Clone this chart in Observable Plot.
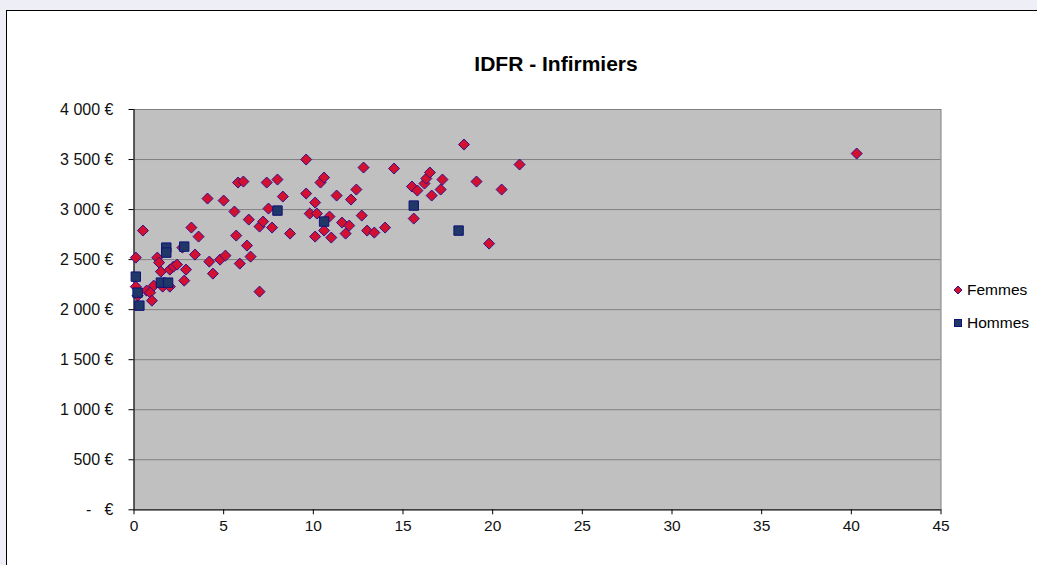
<!DOCTYPE html>
<html>
<head>
<meta charset="utf-8">
<script src="https://cdn.jsdelivr.net/npm/d3@7"></script>
<script src="https://cdn.jsdelivr.net/npm/@observablehq/plot@0.6"></script>
<style>
  html, body { margin: 0; padding: 0; overflow: hidden; }
  body { width: 1037px; height: 565px; background: #eeeef6; position: relative; font-family: "Liberation Sans", Arial, sans-serif; }
  #box { position: absolute; left: 6px; top: 10px; width: 1200px; height: 700px; background: #ffffff; border-left: 1px solid #000; border-top: 1px solid #000; box-sizing: border-box; }
  #chart { position: absolute; left: 0; top: 0; }
  #title { position: absolute; left: 556px; top: 52px; transform: translateX(-50%); font-weight: bold; font-size: 21px; line-height: 24px; white-space: nowrap; color: #000; }
  .leg { position: absolute; left: 953px; font-size: 15.5px; line-height: 18px; color: #000; white-space: nowrap; display: flex; align-items: center; }
  .leg svg { margin-right: 4px; }
</style>
</head>
<body>
<div id="box"></div>
<div id="chart"></div>
<div id="title">IDFR - Infirmiers</div>
<div class="leg" style="top:281px"><svg width="10" height="10"><path d="M5,1L9,5L5,9L1,5Z" fill="#d3102f" stroke="#33118a" stroke-width="1"/></svg>Femmes</div>
<div class="leg" style="top:314px"><svg width="10" height="10"><rect x="1.5" y="1.5" width="7" height="7" fill="#1f3868" stroke="#10107a" stroke-width="1"/></svg>Hommes</div>
<script>
// ---- Data ----
const femmesX = [0.5, 0.1, 1.3, 1.4, 1.5, 2.0, 2.2, 2.4, 2.7, 2.9, 2.8, 3.2, 3.4, 3.6, 4.1, 4.2, 4.4, 4.8, 5.1, 5.0,
  5.6, 5.7, 5.8, 6.1, 5.9, 6.3, 6.4, 6.5, 7.0, 7.0, 7.2, 7.4, 7.5, 7.7, 8.0, 8.3, 8.7, 9.6, 9.6, 9.8,
  10.1, 10.1, 10.2, 10.4, 10.6, 10.6, 10.9, 11.0, 11.3, 11.6, 11.8, 12.0, 12.1, 12.4, 12.7, 12.8, 13.0, 13.4, 14.0, 14.5,
  15.5, 15.6, 15.8, 16.2, 16.3, 16.5, 16.6, 17.1, 17.2, 18.4, 19.1, 19.8, 20.5, 21.5, 40.3,
  1.1, 1.6, 2.0, 0.1, 0.7, 0.9, 1.0, 0.2];
const femmesY = [2790, 2520, 2520, 2470, 2380, 2400, 2430, 2450, 2620, 2400, 2290, 2820, 2550, 2730, 3110, 2480, 2360, 2500, 2540, 3090,
  2980, 2740, 3270, 3280, 2460, 2640, 2900, 2530, 2180, 2830, 2880, 3270, 3010, 2820, 3300, 3130, 2760, 3500, 3160, 2960,
  2730, 3070, 2960, 3270, 3320, 2790, 2930, 2720, 3140, 2870, 2760, 2840, 3100, 3200, 2940, 3420, 2790, 2770, 2820, 3410,
  3230, 2910, 3190, 3260, 3310, 3370, 3140, 3200, 3300, 3650, 3280, 2660, 3200, 3450, 3560,
  2240, 2230, 2230, 2230, 2190, 2170, 2090, 2140];
const hommesX = [0.1, 0.2, 0.3, 1.5, 1.9, 1.8, 1.8, 2.8, 8.0, 10.6, 15.6, 18.1];
const hommesY = [2330, 2170, 2040, 2270, 2270, 2620, 2570, 2630, 2990, 2880, 3040, 2790];
const seriesNames = ["Femmes", "Hommes"];
const yTicks = [0, 500, 1000, 1500, 2000, 2500, 3000, 3500, 4000];
const yTickLabels = ["-\u00a0\u00a0\u00a0€", "500 €", "1\u00a0000 €", "1\u00a0500 €", "2\u00a0000 €", "2\u00a0500 €", "3\u00a0000 €", "3\u00a0500 €", "4\u00a0000 €"];
const xTicks = [0, 5, 10, 15, 20, 25, 30, 35, 40, 45];

// ---- Build table ----
const femmes = femmesX.map((x, i) => ({x, y: femmesY[i], s: seriesNames[0]}));
const hommes = hommesX.map((x, i) => ({x, y: hommesY[i], s: seriesNames[1]}));

const diamond = {
  draw(context, size) {
    const h = Math.sqrt(size / 2);
    context.moveTo(0, -h);
    context.lineTo(h, 0);
    context.lineTo(0, h);
    context.lineTo(-h, 0);
    context.closePath();
  }
};

const chart = Plot.plot({
  width: 1037,
  height: 565,
  marginLeft: 133.5,
  marginRight: 96.5,
  marginTop: 109,
  marginBottom: 55.7,
  style: {background: "transparent", fontFamily: "'Liberation Sans', Arial, sans-serif", fontSize: "15px", color: "#000", overflow: "visible"},
  x: {domain: [0, 45]},
  y: {domain: [0, 4000]},
  marks: [
    Plot.frame({fill: "#c0c0c0", stroke: "#808080"}),
    Plot.ruleY(yTicks, {stroke: "#808080", strokeWidth: 1}),
    Plot.ruleX([0], {stroke: "#000", strokeWidth: 1}),
    Plot.ruleY([0], {stroke: "#404040", strokeWidth: 1.5}),
    Plot.axisY({ticks: yTicks, tickFormat: (d) => yTickLabels[yTicks.indexOf(d)], tickSize: 5, tickPadding: 15.5, fontSize: 16, stroke: "#000", fill: "#111", label: null}),
    Plot.axisX({ticks: xTicks, tickFormat: (d) => String(d), tickSize: 5, tickPadding: 5.5, fontSize: 15.5, stroke: "#000", fill: "#111", label: null}),
    Plot.dot(femmes, {x: "x", y: "y", symbol: () => diamond, r: 4.4, fill: "#d3102f", stroke: "#33118a", strokeWidth: 1}),
    Plot.dot(hommes, {x: "x", y: "y", symbol: "square", r: 5.3, fill: "#1f3868", stroke: "#10107a", strokeWidth: 1})
  ]
});
document.getElementById("chart").appendChild(chart);
</script>
</body>
</html>
